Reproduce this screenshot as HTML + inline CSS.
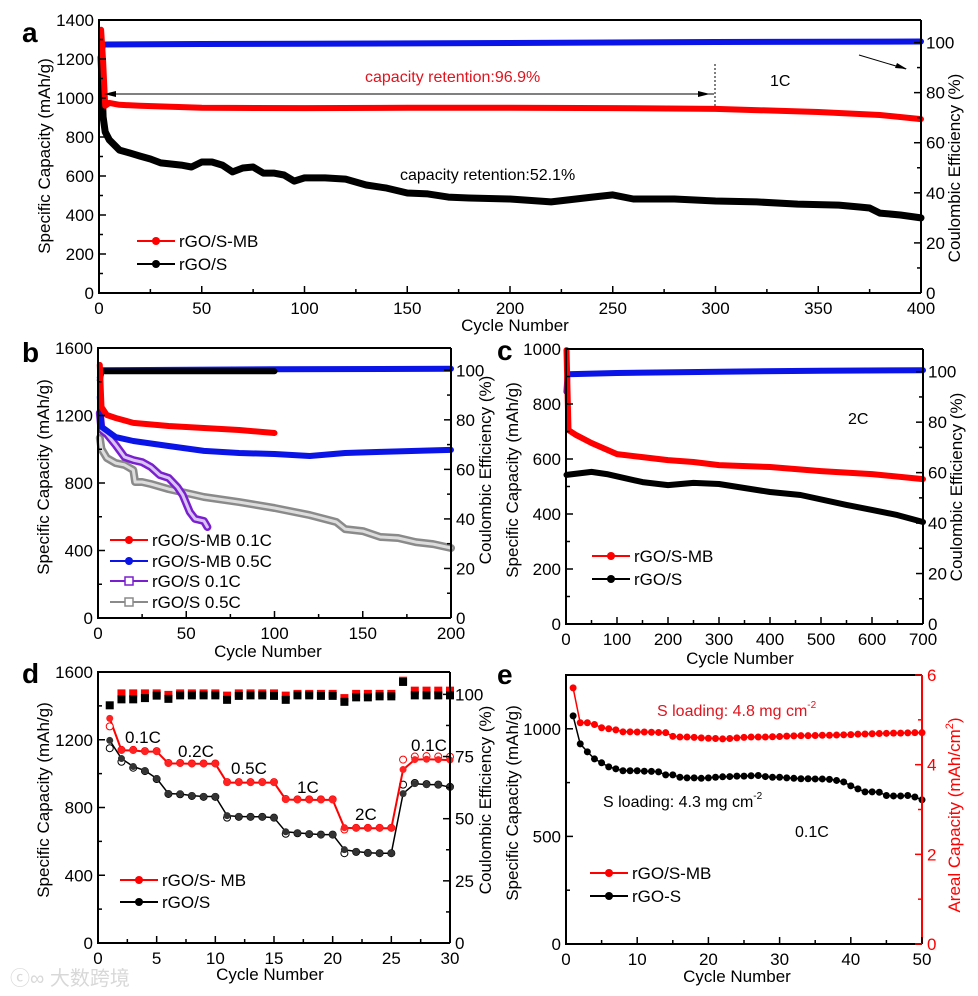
<!DOCTYPE html>
<html><head><meta charset="utf-8"><style>
html,body{margin:0;padding:0;background:#fff;}
svg{display:block;font-family:"Liberation Sans",Arial,sans-serif;}
</style></head><body>
<svg id="fig" width="978" height="996" viewBox="0 0 978 996" xmlns="http://www.w3.org/2000/svg"></svg>
<script>
// ---------- Panel a data ----------
const aBlackCycles=[1,2,3,5,10,15,20,25,30,40,45,50,55,60,65,70,75,80,85,90,95,100,110,120,130,140,150,160,170,180,200,220,240,250,260,280,300,320,340,360,370,375,380,390,400];
const aBlack=[1210,903,826,785,733,718,702,687,667,656,646,672,672,656,621,641,646,615,615,605,574,590,590,584,554,538,513,508,492,487,482,467,492,503,482,482,472,467,456,451,441,436,410,400,385];
const aRedCycles=[1,2,3,5,10,20,50,100,150,200,250,300,350,380,400];
const aRed=[1350,1190,960,975,965,960,950,948,950,950,948,944,928,913,892];
const aCECycles=[1,2,3,50,100,200,300,400];
const aCE=[96,99,99.2,99.4,99.5,99.8,100.2,100.4];
const aXTicks=[0,50,100,150,200,250,300,350,400];
const aLTicks=[0,200,400,600,800,1000,1200,1400];
const aRTicks=[0,20,40,60,80,100];
// ---------- Panel b data ----------
const bRedCycles=[1,2,5,10,20,40,60,80,100];
const bRed=[1500,1250,1203,1185,1156,1138,1126,1114,1096];
const bBlueCycles=[1,2,10,20,40,60,80,100,120,140,160,180,200];
const bBlue=[1310,1133,1072,1049,1019,990,978,972,960,978,984,990,996];
const bPurpleCycles=[1,2,5,10,15,20,25,30,35,40,45,48,52,55,60,62];
const bPurple=[1215,1114,1090,1025,954,936,924,895,847,830,776,729,628,587,575,539];
const bGrayCycles=[1,2,5,10,15,20,21,25,30,40,50,60,80,100,120,135,140,150,160,170,180,190,200];
const bGray=[1067,1001,948,918,907,877,806,806,794,764,741,717,687,652,610,569,527,515,480,474,450,438,415];
const bCEBlackCycles=[1,2,100];
const bCEBlack=[96,99.6,99.6];
const bCEBlueCycles=[1,2,100,200];
const bCEBlue=[97,100,100.4,100.6];
const bXTicks=[0,50,100,150,200];
const bLTicks=[0,400,800,1200,1600];
const bRTicks=[0,20,40,60,80,100];
// ---------- Panel c data ----------
const cRedCycles=[1,5,20,50,100,150,200,250,300,400,500,600,700];
const cRed=[996,705,687,658,618,607,596,589,578,571,556,545,527];
const cBlackCycles=[1,50,80,150,200,250,300,400,460,550,600,650,700];
const cBlack=[542,553,545,516,505,513,509,480,469,433,415,396,371];
const cCECycles=[1,3,100,300,500,700];
const cCE=[92,99,99.5,100,100.4,100.6];
const cXTicks=[0,100,200,300,400,500,600,700];
const cLTicks=[0,200,400,600,800,1000];
const cRTicks=[0,20,40,60,80,100];
// ---------- Panel d data ----------
const dCycles=[1,2,3,4,5,6,7,8,9,10,11,12,13,14,15,16,17,18,19,20,21,22,23,24,25,26,27,28,29,30];
const dMB=[1326,1137,1137,1130,1130,1060,1060,1058,1058,1058,947,947,947,947,947,847,845,845,845,845,681,678,678,678,678,1024,1083,1085,1083,1080];
const dMBc=[1279,1140,1140,1133,1133,1063,1063,1060,1060,1060,950,950,950,950,950,850,848,848,848,848,670,680,680,680,680,1083,1101,1103,1101,1100];
const dS=[1196,1089,1042,1018,971,882,880,870,865,865,752,747,745,745,740,657,650,645,640,640,551,540,533,530,530,882,941,935,935,920];
const dSc=[1150,1070,1035,1015,968,880,878,868,863,863,740,745,745,745,740,645,648,643,640,640,530,538,532,530,530,935,945,938,935,922];
const dCES=[95.6,98,98,98.5,99.5,98.2,99.6,99.6,99.6,99.6,97.8,99.4,99.6,99.6,99.4,97.8,99.6,99.6,99.4,99.4,97,98.8,98.8,99.2,99.2,105,99.6,99.6,99.6,99.6];
const dCEMB=[null,100.4,100.4,100.4,100.4,99.8,100.4,100.4,100.4,100.4,99.5,100.4,100.4,100.4,100.4,99.5,100.2,100.2,100.2,100.2,98.5,100.2,100.2,100.2,100.2,105.5,101.5,101.5,101.5,101.5];
const dXTicks=[0,5,10,15,20,25,30];
const dLTicks=[0,400,800,1200,1600];
const dRTicks=[0,25,50,75,100];
// ---------- Panel e data ----------
const eCycles=[1,2,3,4,5,6,7,8,9,10,11,12,13,14,15,16,17,18,19,20,21,22,23,24,25,26,27,28,29,30,31,32,33,34,35,36,37,38,39,40,41,42,43,44,45,46,47,48,49,50];
const eMB=[1190,1028,1028,1020,1005,1000,995,986,986,985,985,984,983,982,965,962,962,960,958,956,955,953,955,958,960,962,962,962,963,964,966,967,968,968,969,970,970,971,972,973,975,976,977,978,979,980,980,981,982,982];
const eS=[1060,930,893,860,842,823,814,805,805,805,803,802,800,786,786,775,772,772,770,772,775,777,778,780,780,782,783,778,775,775,772,770,768,768,767,767,765,760,753,735,721,707,707,705,690,688,688,690,683,670];
const eXTicks=[0,10,20,30,40,50];
const eLTicks=[0,500,1000];
const eRTicks=[0,2,4,6];

const NS="http://www.w3.org/2000/svg";
const svg=document.getElementById('fig');
function mk(parent,tag,attrs,text){const e=document.createElementNS(NS,tag);for(const k in attrs)e.setAttribute(k,attrs[k]);if(text!==undefined)e.textContent=text;parent.appendChild(e);return e;}

function makePanel(name,x0,x1,y0,y1,xmax,lmax,rmax,xT,xMinor,lT,lMinor,rT,rMinor,rColor){
  const g=mk(svg,'g',{});
  
  
  const P={g,sx:v=>x0+(v/xmax)*(x1-x0),sl:v=>y1-(v/lmax)*(y1-y0),sr:v=>y1-(v/rmax)*(y1-y0)};
  const marks=mk(g,'g',{});
  
  
  P.marks=marks;
  const ax=mk(g,'g',{});
  
  
  P.ax=ax;
  mk(ax,'path',{d:`M${x1} ${y0}H${x0}V${y1}H${x1}`,fill:'none',stroke:'#000','stroke-width':2});
  mk(ax,'line',{x1:x1,y1:y0,x2:x1,y2:y1,stroke:rColor||'#000','stroke-width':2});
  for(let v=0;v<=xmax+1e-9;v+=xMinor){const x=P.sx(v);const maj=xT.some(t=>Math.abs(t-v)<1e-6);mk(ax,'line',{x1:x,x2:x,y1:y1,y2:y1-(maj?7:4),stroke:'#000','stroke-width':1.5});}
  xT.forEach(t=>{const lb=mk(ax,'text',{x:P.sx(t),y:y1+21,'text-anchor':'middle','font-size':17},String(t));});
  for(let v=0;v<=lmax+1e-9;v+=lMinor){const y=P.sl(v);const maj=lT.some(t=>Math.abs(t-v)<1e-6);mk(ax,'line',{x1:x0,x2:x0+(maj?7:4),y1:y,y2:y,stroke:'#000','stroke-width':1.5});}
  lT.forEach(t=>{const lb=mk(ax,'text',{x:x0-5,y:P.sl(t)+6,'text-anchor':'end','font-size':17},String(t));});
  for(let v=0;v<=rmax+1e-9;v+=rMinor){const y=P.sr(v);const maj=rT.some(t=>Math.abs(t-v)<1e-6);mk(ax,'line',{x1:x1,x2:x1-(maj?7:4),y1:y,y2:y,stroke:rColor||'#000','stroke-width':1.5});}
  rT.forEach(t=>{const lb=mk(ax,'text',{x:x1+5,y:P.sr(t)+6,'text-anchor':'start','font-size':17,fill:rColor||'#000'},String(t));});
  return P;
}
function poly(P,xs,ys,axis,color,w,name){
  const sy=axis==='r'?P.sr:P.sl;
  const pts=xs.map((c,i)=>P.sx(c).toFixed(1)+','+sy(ys[i]).toFixed(1)).join(' ');
  const el=mk(P.marks,'polyline',{points:pts,fill:'none',stroke:color,'stroke-width':w,'stroke-linejoin':'round','stroke-linecap':'round'});
  
  
  return el;
}
function txt(parent,x,y,s,size,attrs,name){
  const el=mk(parent,'text',Object.assign({x:x,y:y,'font-size':size},attrs||{}),s);
  
  
  return el;
}
function vtitle(x,y,s,color,name){
  const el=mk(svg,'text',{x:0,y:0,'font-size':17,'text-anchor':'middle',fill:color||'#000',transform:`translate(${x},${y}) rotate(-90)`},s);
  
  
  return el;
}
function legendRow(parent,x,y,color,label,marker,name){
  const g=mk(parent,'g',{});
  
  
  mk(g,'line',{x1:x,x2:x+38,y1:y,y2:y,stroke:color,'stroke-width':2});
  if(marker==='sq')mk(g,'rect',{x:x+15,y:y-4,width:8,height:8,fill:'#fff',stroke:color,'stroke-width':1.5});
  else mk(g,'circle',{cx:x+19,cy:y,r:4,fill:color});
  txt(g,x+42,y+6,label,17,{},'legend-label');
}

// ===== Panel a =====
const A=makePanel('panel-a',99,921,20,293,400,1400,109,aXTicks,25,aLTicks,100,aRTicks,10);
poly(A,aCECycles,aCE,'r','#0a14e6',6,'a-coulombic-efficiency');
poly(A,aBlackCycles,aBlack,'l','#000',7,'a-rgo-s-capacity');
poly(A,aRedCycles,aRed,'l','#f00',6,'a-rgo-s-mb-capacity');
txt(svg,22,42,'a',28,{'font-weight':'bold'},'panel-a-letter');
txt(svg,515,331,'Cycle Number',17,{'text-anchor':'middle'},'a-x-axis-title');
vtitle(50,156,'Specific Capacity (mAh/g)','#000','a-y-axis-title');
vtitle(960,168,'Coulombic Efficiency (%)','#000','a-right-axis-title');
txt(svg,365,82,'capacity retention:96.9%',16,{fill:'#e0141e'},'a-retention-mb');
txt(svg,400,180,'capacity retention:52.1%',16,{},'a-retention-s');
txt(svg,770,86,'1C',16,{},'a-rate-label');
{const g=mk(svg,'g',{});
mk(g,'line',{x1:106,x2:714,y1:94,y2:94,stroke:'#000','stroke-width':1});
mk(g,'path',{d:'M104 94l12-3v6z',fill:'#000'});mk(g,'path',{d:'M710 94l-12-3v6z',fill:'#000'});
mk(g,'line',{x1:715,x2:715,y1:64,y2:106,stroke:'#000','stroke-width':1,'stroke-dasharray':'2,2'});
mk(g,'line',{x1:859,x2:906,y1:55,y2:69,stroke:'#000','stroke-width':1});mk(g,'path',{d:'M907 69l-12-1 2-5z',fill:'#000'});}
legendRow(svg,137,241,'#f00','rGO/S-MB','c','a-legend-mb');
legendRow(svg,137,264,'#000','rGO/S','c','a-legend-s');

// ===== Panel b =====
const B=makePanel('panel-b',98,451,348,618,200,1600,109,bXTicks,25,bLTicks,200,bRTicks,10);
poly(B,bCEBlueCycles,bCEBlue,'r','#0a14e6',6,'b-ce-mb-05c');
poly(B,bCEBlackCycles,bCEBlack,'r','#000',6,'b-ce-s');
poly(B,bGrayCycles,bGray,'l','#8a8a8a',8,'b-rgo-s-05c');
poly(B,bGrayCycles,bGray,'l','#ddd',3,'b-rgo-s-05c-inner');
poly(B,bPurpleCycles,bPurple,'l','#7a1fd0',8,'b-rgo-s-01c');
poly(B,bPurpleCycles,bPurple,'l','#d9c6f2',3,'b-rgo-s-01c-inner');
poly(B,bBlueCycles,bBlue,'l','#0a14e6',6,'b-rgo-s-mb-05c');
poly(B,bRedCycles,bRed,'l','#f00',6,'b-rgo-s-mb-01c');
txt(svg,22,362,'b',28,{'font-weight':'bold'},'panel-b-letter');
txt(svg,268,657,'Cycle Number',17,{'text-anchor':'middle'},'b-x-axis-title');
vtitle(49,477,'Specific Capacity (mAh/g)','#000','b-y-axis-title');
vtitle(491,470,'Coulombic Efficiency (%)','#000','b-right-axis-title');
legendRow(svg,110,540,'#f00','rGO/S-MB 0.1C','c','b-legend-mb-01c');
legendRow(svg,110,561,'#0a14e6','rGO/S-MB 0.5C','c','b-legend-mb-05c');
legendRow(svg,110,581,'#7a1fd0','rGO/S 0.1C','sq','b-legend-s-01c');
legendRow(svg,110,602,'#8a8a8a','rGO/S 0.5C','sq','b-legend-s-05c');

// ===== Panel c =====
const C=makePanel('panel-c',566,923,349,624,700,1000,109,cXTicks,50,cLTicks,100,cRTicks,10);
poly(C,cCECycles,cCE,'r','#0a14e6',6,'c-coulombic-efficiency');
poly(C,cBlackCycles,cBlack,'l','#000',6,'c-rgo-s');
poly(C,cRedCycles,cRed,'l','#f00',6,'c-rgo-s-mb');
txt(svg,497,360,'c',28,{'font-weight':'bold'},'panel-c-letter');
txt(svg,740,664,'Cycle Number',17,{'text-anchor':'middle'},'c-x-axis-title');
vtitle(518,480,'Specific Capacity (mAh/g)','#000','c-y-axis-title');
vtitle(962,487,'Coulombic Efficiency (%)','#000','c-right-axis-title');
txt(svg,848,424,'2C',16,{},'c-rate-label');
legendRow(svg,592,556,'#f00','rGO/S-MB','c','c-legend-mb');
legendRow(svg,592,579,'#000','rGO/S','c','c-legend-s');

// ===== Panel d =====
const D=makePanel('panel-d',98,450,672,943,30,1600,109,dXTicks,2.5,dLTicks,200,dRTicks,12.5);
dCycles.forEach((c,i)=>{if(dCEMB[i]!==null){const r=mk(D.marks,'rect',{x:D.sx(c)-4,y:D.sr(dCEMB[i])-4,width:8,height:8,fill:'#f00'});}});
dCycles.forEach((c,i)=>{const r=mk(D.marks,'rect',{x:D.sx(c)-4,y:D.sr(dCES[i])-4,width:8,height:8,fill:'#000'});});
poly(D,dCycles,dS,'l','#000',1.5,'d-rgo-s-line');
dCycles.forEach((c,i)=>{const o=mk(D.marks,'circle',{cx:D.sx(c),cy:D.sl(dSc[i]),r:3.5,fill:'#fff',stroke:'#000','stroke-width':1});
 const p=mk(D.marks,'circle',{cx:D.sx(c),cy:D.sl(dS[i]),r:3.5,fill:'#333'});});
poly(D,dCycles,dMB,'l','#f00',2,'d-rgo-s-mb-line');
dCycles.forEach((c,i)=>{const o=mk(D.marks,'circle',{cx:D.sx(c),cy:D.sl(dMBc[i]),r:3.5,fill:'#fff',stroke:'#f00','stroke-width':1});
 const p=mk(D.marks,'circle',{cx:D.sx(c),cy:D.sl(dMB[i]),r:3.5,fill:'#f22'});});
txt(svg,22,683,'d',28,{'font-weight':'bold'},'panel-d-letter');
txt(svg,270,980,'Cycle Number',17,{'text-anchor':'middle'},'d-x-axis-title');
vtitle(49,800,'Specific Capacity (mAh/g)','#000','d-y-axis-title');
vtitle(491,800,'Coulombic Efficiency (%)','#000','d-right-axis-title');
[['0.1C',125,743],['0.2C',178,757],['0.5C',231,774],['1C',297,793],['2C',355,820],['0.1C',411,751]].forEach(r=>txt(svg,r[1],r[2],r[0],17,{},'d-rate-label'));
legendRow(svg,120,880,'#f00','rGO/S- MB','c','d-legend-mb');
legendRow(svg,120,902,'#000','rGO/S','c','d-legend-s');

// ===== Panel e =====
const E=makePanel('panel-e',566,922,675,944,50,1250,6,eXTicks,5,eLTicks,250,eRTicks,1,'#f00');
poly(E,eCycles,eMB,'l','#f00',1.5,'e-rgo-s-mb-line');
eCycles.forEach((c,i)=>{const p=mk(E.marks,'circle',{cx:E.sx(c),cy:E.sl(eMB[i]),r:3.5,fill:'#f00'});});
poly(E,eCycles,eS,'l','#000',1.5,'e-rgo-s-line');
eCycles.forEach((c,i)=>{const p=mk(E.marks,'circle',{cx:E.sx(c),cy:E.sl(eS[i]),r:3.5,fill:'#000'});});
txt(svg,497,684,'e',28,{'font-weight':'bold'},'panel-e-letter');
txt(svg,737,982,'Cycle Number',17,{'text-anchor':'middle'},'e-x-axis-title');
vtitle(518,803,'Specific Capacity (mAh/g)','#000','e-y-axis-title');
{const el=mk(svg,'text',{x:0,y:0,'font-size':17,'text-anchor':'middle',fill:'#f00',transform:'translate(960,815) rotate(-90)'});

el.appendChild(document.createTextNode('Areal Capacity (mAh/cm'));const s=mk(el,'tspan',{'font-size':11,dy:-7},'2');mk(el,'tspan',{dy:7},')');}
{const el=txt(svg,657,716,'S loading: 4.8 mg cm',16,{fill:'#e0141e'},'e-loading-mb');mk(el,'tspan',{'font-size':10,dy:-8},'-2');}
{const el=txt(svg,603,807,'S loading: 4.3 mg cm',16,{},'e-loading-s');mk(el,'tspan',{'font-size':10,dy:-8},'-2');}
txt(svg,795,837,'0.1C',16,{},'e-rate-label');
legendRow(svg,590,873,'#f00','rGO/S-MB','c','e-legend-mb');
legendRow(svg,590,896,'#000','rGO-S','c','e-legend-s');

// watermark
txt(svg,10,985,'ⓒ∞ 大数跨境',20,{fill:'#d8d8d8','font-family':'"Liberation Sans","Noto Sans CJK SC",sans-serif'},'watermark');
</script>
</body></html>
